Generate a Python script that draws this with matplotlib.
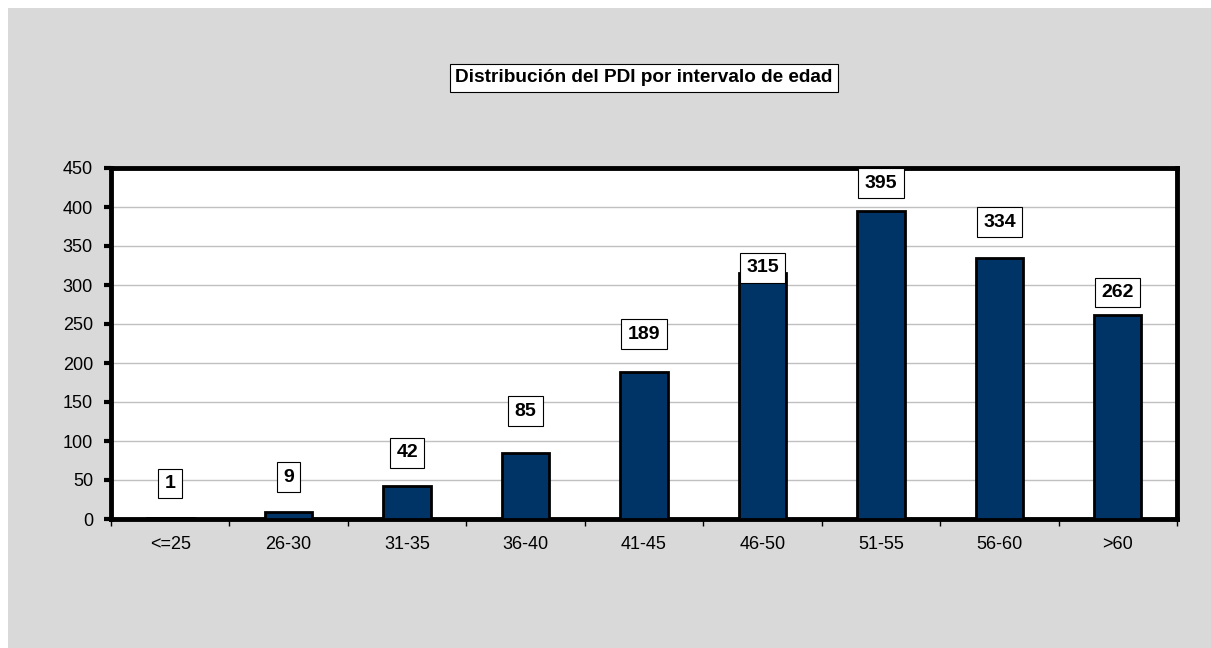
import matplotlib
matplotlib.use('Agg')
import matplotlib.pyplot as plt
import numpy as np
from matplotlib.patches import Rectangle

# datos
categorias = ['<=25', '26-30', '31-35', '36-40', '41-45', '46-50', '51-55', '56-60', '>60']
pdi = [1, 9, 42, 85, 189, 315, 395, 334, 262]
# desplazamiento vertical de cada etiqueta (puntos), movidas a mano en el original
desplaz = [25, 25, 24, 30, 27, 4, 20, 26, 16]

plt.rcParams['font.family'] = ['Liberation Sans', 'DejaVu Sans']

W, H = 1211, 648
fig = plt.figure(figsize=(W / 100, H / 100), dpi=100, facecolor='white')
fig.patches.append(Rectangle((8 / W, 0), 1 - 8 / W, 1 - 8 / H, transform=fig.transFigure,
                             facecolor='#d9d9d9', edgecolor='none', zorder=-10))

ax = fig.add_axes([111 / W, (H - 519) / H, (1177 - 111) / W, (519 - 168) / H])
ax.set_facecolor('white')

x = np.arange(len(categorias))
ax.bar(x, pdi, width=0.4, color='#003366', edgecolor='black', linewidth=2, zorder=3)

for xi, v, d in zip(x, pdi, desplaz):
    ax.annotate(str(v), (xi, v), xytext=(0, d), textcoords='offset points',
                ha='center', va='center', fontsize=14, fontweight='bold', zorder=5,
                bbox=dict(boxstyle='square,pad=0.33', facecolor='white', edgecolor='black', linewidth=0.8))

ax.set_xlim(-0.5, len(categorias) - 0.5)
ax.set_ylim(0, 450)
ax.set_yticks(np.arange(0, 451, 50))
ax.yaxis.grid(True, color='#c0c0c0', linewidth=1)
ax.set_axisbelow(True)

ax.set_xticks(x)
ax.set_xticklabels(categorias)
ax.set_xticks(np.arange(-0.5, len(categorias), 1), minor=True)
ax.tick_params(axis='x', which='major', length=0, pad=12, labelsize=13)
ax.tick_params(axis='x', which='minor', length=5, width=1, direction='out')
ax.tick_params(axis='y', length=5, width=3, direction='out', pad=8, labelsize=13)

for s in ax.spines.values():
    s.set_linewidth(3.5)
    s.set_color('black')

fig.text(644 / W, 1 - 78 / H, 'Distribución del PDI por intervalo de edad', ha='center', va='center',
         fontsize=13.7, fontweight='bold',
         bbox=dict(boxstyle='square,pad=0.3', facecolor='white', edgecolor='black', linewidth=0.8))

fig.savefig('out.png', dpi=100, facecolor='white')
